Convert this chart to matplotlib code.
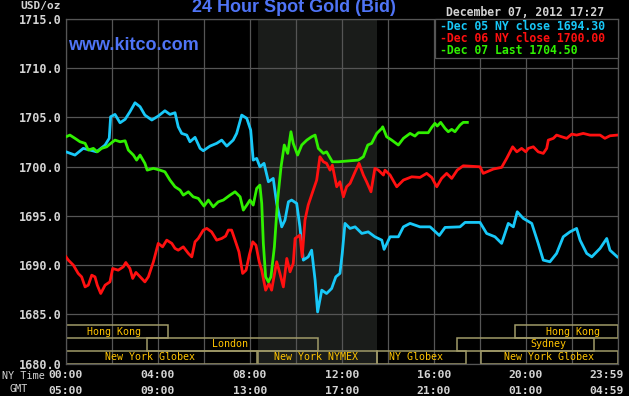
#!/usr/bin/env python3
"""
Recreate the Kitco 24 Hour Spot Gold (Bid) chart for Dec 05-07, 2012.
"""

import matplotlib

matplotlib.use("Agg")
import matplotlib.pyplot as plt
from matplotlib.patches import Rectangle

# Hours since 00:00 NY time and bid prices
dec05_hours = [0.00, 0.39, 0.75, 1.04, 1.33, 1.70, 1.88, 1.94, 2.13, 2.35,
               2.57, 2.78, 3.00, 3.22, 3.43, 3.73, 4.01, 4.30, 4.52, 4.74,
               4.88, 5.03, 5.25, 5.39, 5.61, 5.83, 5.97, 6.26, 6.55, 6.77,
               6.99, 7.27, 7.42, 7.64, 7.86, 8.03, 8.14, 8.29, 8.43, 8.61,
               8.80, 9.01, 9.16, 9.38, 9.52, 9.67, 9.81, 10.03, 10.17, 10.32,
               10.53, 10.68, 10.83, 10.94, 11.12, 11.33, 11.55, 11.73, 11.91, 12.01,
               12.13, 12.35, 12.57, 12.86, 13.14, 13.43, 13.73, 13.83, 14.09, 14.45,
               14.67, 14.96, 15.39, 15.83, 16.23, 16.48, 17.13, 17.35, 18.00, 18.29,
               18.65, 18.94, 19.23, 19.45, 19.62, 19.88, 20.25, 20.53, 20.75, 21.04,
               21.33, 21.62, 21.91, 22.20, 22.35, 22.64, 22.86, 23.22, 23.51, 23.65,
               23.97]
dec05_price = [1701.51, 1701.18, 1701.86, 1701.69, 1701.51, 1702.20, 1702.88, 1705.07, 1705.31, 1704.46,
               1704.81, 1705.58, 1706.49, 1706.09, 1705.24, 1704.74, 1705.14, 1705.68, 1705.31, 1705.48,
               1704.05, 1703.38, 1703.21, 1702.53, 1702.98, 1701.86, 1701.62, 1702.09, 1702.37, 1702.70,
               1702.09, 1702.70, 1703.38, 1705.24, 1704.91, 1703.72, 1700.67, 1700.84, 1699.99, 1700.34,
               1698.47, 1698.81, 1696.27, 1693.89, 1694.57, 1696.43, 1696.61, 1696.27, 1693.89, 1690.51,
               1690.84, 1691.52, 1688.48, 1685.25, 1687.46, 1687.12, 1687.63, 1688.81, 1689.16, 1691.19,
               1694.24, 1693.73, 1693.89, 1693.22, 1693.38, 1692.88, 1692.54, 1691.60, 1692.88, 1692.88,
               1693.89, 1694.24, 1693.89, 1693.89, 1693.02, 1693.83, 1693.89, 1694.34, 1694.34, 1693.22,
               1692.88, 1692.21, 1694.24, 1693.89, 1695.42, 1694.75, 1694.24, 1692.21, 1690.51, 1690.34,
               1691.19, 1692.88, 1693.38, 1693.73, 1692.54, 1691.19, 1690.84, 1691.70, 1692.71, 1691.52,
               1690.84]

dec06_hours = [0.00, 0.10, 0.32, 0.53, 0.68, 0.83, 0.97, 1.12, 1.26, 1.36,
               1.51, 1.70, 1.91, 2.03, 2.27, 2.49, 2.60, 2.78, 2.90, 3.04,
               3.29, 3.43, 3.58, 3.80, 4.01, 4.20, 4.38, 4.60, 4.74, 4.88,
               5.10, 5.32, 5.47, 5.61, 5.75, 5.97, 6.12, 6.33, 6.55, 6.77,
               6.94, 7.06, 7.20, 7.35, 7.52, 7.68, 7.83, 7.97, 8.12, 8.26,
               8.40, 8.51, 8.68, 8.83, 8.94, 9.16, 9.30, 9.45, 9.60, 9.74,
               9.88, 9.96, 10.17, 10.27, 10.39, 10.53, 10.75, 10.90, 11.04, 11.19,
               11.33, 11.48, 11.58, 11.77, 11.91, 12.06, 12.20, 12.35, 12.57, 12.74,
               12.93, 13.07, 13.26, 13.43, 13.58, 13.80, 13.87, 14.09, 14.38, 14.67,
               15.03, 15.39, 15.68, 15.90, 16.12, 16.33, 16.55, 16.77, 17.01, 17.27,
               18.00, 18.14, 18.58, 18.94, 19.16, 19.42, 19.60, 19.81, 19.99, 20.10,
               20.32, 20.53, 20.75, 20.90, 20.97, 21.19, 21.33, 21.55, 21.77, 21.99,
               22.20, 22.49, 22.78, 23.22, 23.43, 23.65, 23.97]
dec06_price = [1690.84, 1690.51, 1690.00, 1689.16, 1688.81, 1687.79, 1687.97, 1688.98, 1688.81, 1687.97,
               1687.12, 1687.97, 1688.30, 1689.66, 1689.49, 1689.83, 1690.27, 1689.66, 1688.65, 1689.26,
               1688.65, 1688.30, 1688.81, 1690.34, 1692.21, 1691.86, 1692.54, 1692.21, 1691.70, 1691.52,
               1691.86, 1691.19, 1690.84, 1692.37, 1692.71, 1693.56, 1693.73, 1693.38, 1692.54, 1692.71,
               1692.95, 1693.56, 1693.56, 1692.54, 1691.35, 1689.16, 1689.49, 1691.02, 1692.37, 1692.03,
               1690.34, 1689.49, 1687.46, 1688.14, 1687.46, 1690.34, 1689.16, 1687.79, 1690.68, 1689.32,
               1690.17, 1692.71, 1693.05, 1690.84, 1694.57, 1696.10, 1697.62, 1698.64, 1701.01, 1700.50,
               1700.34, 1699.65, 1700.16, 1697.96, 1698.47, 1696.94, 1697.96, 1698.30, 1699.48, 1700.34,
               1699.15, 1698.47, 1697.45, 1699.83, 1699.65, 1699.15, 1699.65, 1699.15, 1697.96, 1698.64,
               1698.97, 1698.91, 1699.32, 1698.91, 1697.96, 1698.81, 1699.32, 1698.81, 1699.65, 1700.09,
               1699.99, 1699.32, 1699.76, 1699.93, 1700.84, 1702.02, 1701.51, 1701.86, 1701.51, 1701.86,
               1702.02, 1701.51, 1701.35, 1701.86, 1702.70, 1702.88, 1703.21, 1703.04, 1702.88, 1703.31,
               1703.21, 1703.38, 1703.21, 1703.21, 1702.88, 1703.14, 1703.21]

dec07_hours = [0.00, 0.17, 0.39, 0.61, 0.83, 0.97, 1.19, 1.36, 1.55, 1.77,
               1.91, 2.13, 2.35, 2.57, 2.71, 2.93, 3.07, 3.22, 3.43, 3.53,
               3.80, 4.09, 4.30, 4.52, 4.74, 4.96, 5.10, 5.32, 5.53, 5.75,
               6.00, 6.19, 6.40, 6.62, 6.84, 7.13, 7.35, 7.57, 7.71, 7.86,
               8.00, 8.14, 8.29, 8.43, 8.51, 8.58, 8.68, 8.80, 8.91, 9.06,
               9.20, 9.35, 9.49, 9.64, 9.78, 9.88, 10.07, 10.25, 10.47, 10.68,
               10.83, 10.97, 11.19, 11.33, 11.58, 11.84, 12.71, 12.93, 13.12, 13.29,
               13.51, 13.73, 13.77, 13.94, 14.16, 14.45, 14.67, 14.96, 15.17, 15.32,
               15.75, 15.90, 16.04, 16.14, 16.29, 16.48, 16.62, 16.77, 16.91, 17.13,
               17.27, 17.45]
dec07_price = [1703.04, 1703.21, 1702.88, 1702.53, 1702.37, 1701.69, 1701.86, 1701.51, 1701.86, 1702.02,
               1702.30, 1702.70, 1702.53, 1702.63, 1701.69, 1701.18, 1700.67, 1701.18, 1700.34, 1699.65,
               1699.83, 1699.65, 1699.48, 1698.64, 1697.96, 1697.62, 1697.11, 1697.45, 1696.94, 1696.78,
               1696.00, 1696.61, 1695.92, 1696.43, 1696.61, 1697.11, 1697.45, 1696.94, 1695.59, 1696.10,
               1696.61, 1696.10, 1697.79, 1698.13, 1696.27, 1692.21, 1688.81, 1688.30, 1688.81, 1691.86,
               1696.61, 1699.99, 1702.20, 1701.35, 1703.55, 1702.37, 1701.18, 1702.20, 1702.70, 1703.04,
               1703.21, 1701.86, 1701.35, 1701.51, 1700.50, 1700.50, 1700.67, 1701.01, 1702.20, 1702.37,
               1703.38, 1703.89, 1704.05, 1703.04, 1702.70, 1702.20, 1702.88, 1703.38, 1703.11, 1703.45,
               1703.45, 1703.99, 1704.40, 1704.13, 1704.50, 1703.89, 1703.55, 1703.79, 1703.55, 1704.23,
               1704.50, 1704.50]

legend_labels = ["Dec 05 NY close 1694.30", "Dec 06 NY close 1700.00", "Dec 07 Last 1704.50"]

# Trading sessions: label, start hour, end hour, row (0 = top), label centre hour
sessions = [
    ("Hong Kong", 0.0, 4.45, 0, 2.09),
    ("London", 3.51, 10.96, 1, 7.15),
    ("New York Globex", 0.0, 8.29, 2, 3.64),
    ("New York NYMEX", 8.33, 13.51, 2, 10.87),
    ("NY Globex", 13.51, 17.38, 2, 15.2),
    ("New York Globex", 18.04, 24.0, 2, 20.98),
    ("Sydney", 17.01, 22.97, 1, 20.99),
    ("Hong Kong", 19.52, 24.0, 0, 22.06),
]
nymex_open, nymex_close = 8.33, 13.51

y_ticks = [1680, 1685, 1690, 1695, 1700, 1705, 1710, 1715]
ny_time_labels = ["00:00", "04:00", "08:00", "12:00", "16:00", "20:00", "23:59"]
gmt_labels = ["05:00", "09:00", "13:00", "17:00", "21:00", "01:00", "04:59"]
label_hours = [0, 4, 8, 12, 16, 20, 24]

W, H = 629, 396


def fx(x):
    return x / W


def fy(y):
    return 1 - y / H


def main():
    mono = "DejaVu Sans Mono"
    grid_col = "#555555"
    text_col = "#d4d4d4"
    blue = "#4f74f6"
    series_cols = ["#18c8f8", "#ff1010", "#30f000"]

    fig = plt.figure(figsize=(W / 100, H / 100), dpi=100, facecolor="black")
    ax = fig.add_axes([fx(66), fy(363.6), fx(618) - fx(66), fy(19) - fy(363.6)])
    ax.set_facecolor("black")
    ax.set_xlim(0, 24)
    ax.set_ylim(1680, 1715)

    # grid
    ax.set_xticks(range(0, 25, 2))
    ax.set_yticks(y_ticks)
    ax.grid(True, color=grid_col, linewidth=0.9)
    ax.set_axisbelow(True)
    for s in ax.spines.values():
        s.set_color(grid_col)
        s.set_linewidth(0.9)
    ax.tick_params(length=0, labelbottom=False)
    ax.set_yticklabels([f"{v:.1f}" for v in y_ticks], fontfamily=mono,
                       fontweight="bold", fontsize=8.5, color=text_col)
    ax.tick_params(axis="y", pad=3)

    # NYMEX shading
    ax.axvspan(nymex_open, nymex_close, color="#1a1c1a", zorder=0.5, lw=0)

    # session boxes
    row_top = [1683.88, 1682.57, 1681.27]
    row_h = 1.26
    for label, start, end, row, lx in sessions:
        ax.add_patch(Rectangle((start, row_top[row] - row_h), end - start, row_h,
                               fill=False, edgecolor="#a09a68", linewidth=1.1, zorder=2))
        ax.text(lx, row_top[row] - row_h / 2, label, ha="center", va="center",
                fontfamily=mono, fontsize=7.2, color="#ffc400", zorder=3)

    # price lines
    ax.plot(dec05_hours, dec05_price, color=series_cols[0], lw=2.0, zorder=4)
    ax.plot(dec06_hours, dec06_price, color=series_cols[1], lw=2.0, zorder=4)
    ax.plot(dec07_hours, dec07_price, color=series_cols[2], lw=2.0, zorder=5)

    # legend box
    ax.add_patch(Rectangle(((434.7 - 66) / 552, (363.6 - 58) / 344.6),
                           1 - (434.7 - 66) / 552, 1 - (363.6 - 58) / 344.6,
                           transform=ax.transAxes, facecolor="black",
                           edgecolor=grid_col, linewidth=0.9, zorder=6, clip_on=False))
    for i, (lab, col) in enumerate(zip(legend_labels, series_cols)):
        fig.text(fx(440), fy(26 + 12.5 * i), "-" + lab, ha="left", va="center",
                 fontfamily=mono, fontweight="bold", fontsize=8.3, color=col)

    # x axis labels
    for h, ny, gmt in zip(label_hours, ny_time_labels, gmt_labels):
        xpix = 66 + h * 23
        if h == 24:
            xpix = 607
        fig.text(fx(xpix), fy(375), ny, ha="center", va="center", fontfamily=mono,
                 fontweight="bold", fontsize=8.2, color=text_col)
        fig.text(fx(xpix), fy(390.5), gmt, ha="center", va="center", fontfamily=mono,
                 fontweight="bold", fontsize=8.2, color=text_col)
    fig.text(fx(2), fy(376), "NY Time", ha="left", va="center", fontfamily=mono,
             fontsize=7.3, color=text_col)
    fig.text(fx(10), fy(389), "GMT", ha="left", va="center", fontfamily=mono,
             fontsize=7.3, color=text_col)

    # headers
    fig.text(fx(20), fy(5.5), "USD/oz", ha="left", va="center", fontfamily=mono,
             fontweight="bold", fontsize=8.0, color=text_col)
    fig.text(fx(294), fy(7), "24 Hour Spot Gold (Bid)", ha="center", va="center",
             fontfamily="Liberation Sans", fontweight="bold", fontsize=13, color=blue)
    fig.text(fx(68), fy(45), "www.kitco.com", ha="left", va="center",
             fontfamily="Liberation Sans", fontweight="bold", fontsize=13, color=blue)
    fig.text(fx(446), fy(12), "December 07, 2012 17:27", ha="left", va="center",
             fontfamily=mono, fontweight="bold", fontsize=8.3, color=text_col)

    fig.savefig("out.png", dpi=100, facecolor="black")
    print("Saved out.png")


if __name__ == "__main__":
    main()
